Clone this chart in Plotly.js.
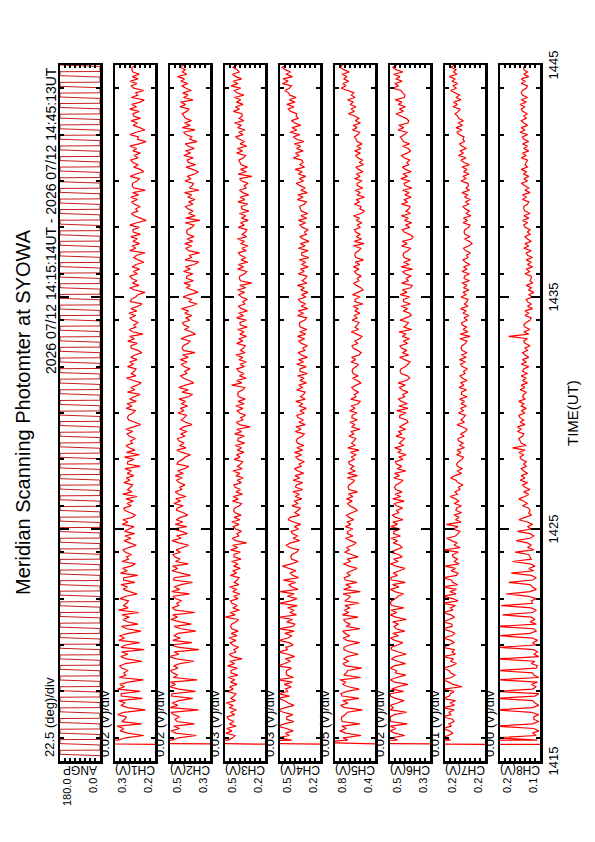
<!DOCTYPE html>
<html><head><meta charset="utf-8">
<script src="https://cdn.plot.ly/plotly-3.0.1.min.js"></script>
<style>
html,body{margin:0;padding:0;background:#fff;overflow:hidden;width:595px;height:842px;}
#rot{position:absolute;left:0;top:0;width:842px;height:595px;transform-origin:0 0;transform:translate(0,842px) rotate(-90deg);}
</style></head><body><div id="rot"></div>
<script>
// ---------------- DATA ----------------
const titleText = 'Meridian Scanning Photomter at SYOWA';
const subTitleText = '2026 07/12 14:15:14UT - 2026 07/12 14:45:13UT';
const xTitleText = 'TIME(UT)';
const xTickVals = [15, 25, 35, 45];
const xTickText = ['1415', '1425', '1435', '1445'];
const xMinorVals = [16,18,20,22,24,26,28,30,32,34,36,38,40,42,44];

const channelNames = ['ANGP','CH1(V)','CH2(V)','CH3(V)','CH4(V)','CH5(V)','CH6(V)','CH7(V)','CH8(V)'];
const scaleLabels = ['22.5 (deg)/div','0.02 (V)/div','0.02 (V)/div','0.03 (V)/div','0.03 (V)/div','0.05 (V)/div','0.02 (V)/div','0.01 (V)/div','0.00 (V)/div'];
const topLabels = ['180.0','0.3','0.5','0.5','0.5','0.8','0.5','0.2','0.2'];
const botLabels = ['0.0','0.2','0.3','0.2','0.2','0.4','0.3','0.2','0.1'];
const yMin = [0, 0.16, 0.34, 0.24, 0.25, 0.40, 0.34, 0.16, 0.125];
const yMax = [180, 0.32, 0.50, 0.48, 0.49, 0.80, 0.50, 0.24, 0.157];

// scan angle: start time of each scan (minutes after 14:00) and scan profile
const scanStart = [15.23,15.69,16.14,16.60,17.06,17.52,17.97,18.43,18.89,19.34,19.80,20.26,20.71,21.17,21.63,22.09,22.54,23.00,23.46,23.91,24.37,24.83,25.28,25.74,26.20,26.66,27.11,27.57,28.03,28.48,28.94,29.40,29.85,30.31,30.77,31.23,31.68,32.14,32.60,33.05,33.51,33.97,34.42,34.88,35.34,35.80,36.25,36.71,37.17,37.62,38.08,38.54,38.99,39.45,39.91,40.37,40.82,41.28,41.74,42.19,42.65,43.11,43.56,44.02,44.48,44.94];
const scanProfileDt = [0, 0.06, 0.23, 0.24];
const scanProfileDeg = [0, 180, 180, 0];

// photometer samples: first sample time and sampling step (minutes after 14:00)
const chT0 = 15.7;
const chDt = 0.1;

const ch1 = [0,1,
.308,.278,.205,.270,.299,.284,.312,.214,.293,.281, .275,.309,.285,.198,.270,.296,.279,.305,.210,.295,
.296,.219,.309,.282,.301,.267,.207,.303,.277,.285, .267,.291,.301,.278,.212,.274,.297,.269,.294,.203,
.296,.278,.222,.305,.282,.302,.265,.216,.273,.294, .228,.271,.288,.263,.292,.225,.305,.268,.286,.274,
.266,.300,.276,.231,.261,.287,.270,.296,.240,.286, .285,.229,.298,.271,.290,.256,.238,.292,.266,.274,
.254,.278,.288,.265,.235,.261,.284,.256,.281,.242, .282,.264,.244,.291,.268,.288,.251,.238,.259,.280,
.285,.255,.272,.247,.276,.232,.289,.252,.270,.258, .250,.284,.260,.275,.245,.271,.254,.280,.220,.270,
.269,.244,.282,.222,.274,.240,.263,.276,.250,.258, .238,.262,.272,.249,.277,.245,.218,.240,.265,.270,
.266,.248,.239,.275,.252,.272,.235,.261,.243,.220, .270,.240,.257,.232,.215,.246,.274,.237,.255,.243,
.236,.270,.246,.261,.231,.257,.240,.212,.228,.256, .256,.231,.269,.242,.261,.208,.250,.263,.237,.245,
.226,.250,.260,.237,.265,.233,.256,.228,.212,.258, .255,.237,.228,.200,.241,.261,.224,.250,.232,.253,
.260,.230,.247,.222,.251,.236,.205,.227,.245,.233, .200,.261,.237,.252,.222,.248,.231,.257,.219,.247,
.248,.223,.261,.234,.195,.219,.242,.255,.229,.237, .219,.243,.253,.230,.258,.226,.249,.198,.246,.251,
.250,.232,.223,.259,.236,.205,.219,.245,.227,.248, .257,.227,.244,.219,.248,.233,.261,.224,.196,.230,
.226,.260,.236,.200,.221,.247,.230,.256,.218,.246, .248,.223,.261,.234,.253,.219,.203,.255,.229,.237,
.205,.245,.255,.232,.260,.228,.251,.223,.248,.253, .251,.236,.246];

const ch2 = [0,1,
.491,.466,.395,.477,.496,.462,.485,.403,.472,.480, .462,.486,.496,.386,.501,.469,.492,.464,.409,.494,
.492,.398,.465,.501,.478,.498,.392,.487,.469,.490, .498,.468,.485,.460,.404,.474,.502,.465,.483,.384,
.464,.498,.412,.489,.459,.485,.468,.397,.456,.484, .415,.459,.497,.470,.489,.401,.478,.491,.465,.473,
.454,.478,.488,.422,.493,.461,.484,.456,.410,.486, .483,.418,.456,.492,.469,.489,.427,.478,.460,.481,
.488,.458,.475,.450,.425,.464,.492,.455,.473,.431, .454,.488,.433,.479,.449,.475,.458,.429,.446,.474,
.472,.447,.485,.458,.477,.436,.466,.479,.453,.461, .440,.464,.474,.451,.479,.447,.470,.442,.425,.472,
.467,.449,.440,.418,.453,.473,.436,.462,.444,.465, .470,.440,.457,.432,.461,.446,.412,.437,.455,.443,
.434,.468,.444,.459,.429,.455,.438,.464,.426,.410, .452,.427,.465,.438,.405,.423,.446,.459,.433,.441,
.420,.444,.454,.431,.459,.427,.450,.400,.447,.452, .447,.429,.420,.456,.433,.398,.416,.442,.424,.445,
.450,.420,.437,.412,.441,.426,.454,.417,.392,.423, .414,.448,.424,.388,.409,.435,.418,.444,.406,.434,
.433,.408,.446,.419,.438,.404,.385,.440,.414,.422, .382,.426,.436,.413,.441,.409,.432,.404,.429,.434,
.431,.413,.404,.440,.380,.437,.400,.426,.408,.429, .438,.408,.425,.400,.429,.414,.442,.384,.423,.411,
.406,.440,.416,.431,.401,.386,.410,.436,.398,.426, .432,.407,.445,.418,.437,.403,.426,.439,.392,.421,
.412,.436,.446,.400,.451,.419,.442,.414,.439,.444, .451,.433,.424,.460,.437,.457,.408,.446,.428,.449,
.415,.436,.453,.428,.457,.442,.470,.433,.451,.439, .461,.444,.455];

const ch3 = [0,1,
.461,.433,.420,.474,.439,.470,.414,.453,.426,.458, .467,.422,.448,.410,.454,.431,.473,.417,.445,.426,
.415,.466,.430,.453,.407,.447,.421,.460,.403,.445, .444,.406,.464,.423,.452,.378,.435,.455,.415,.427,
.398,.434,.449,.414,.457,.408,.443,.401,.439,.446, .441,.413,.400,.478,.419,.450,.394,.433,.406,.438,
.447,.402,.428,.390,.434,.411,.453,.397,.425,.406, .396,.447,.411,.434,.388,.428,.402,.441,.384,.426,
.426,.388,.446,.405,.434,.350,.417,.437,.397,.409, .380,.416,.431,.396,.439,.390,.425,.383,.421,.428,
.422,.394,.381,.435,.400,.431,.375,.414,.387,.419, .427,.382,.408,.370,.414,.391,.433,.377,.405,.386,
.374,.425,.389,.412,.366,.406,.380,.419,.362,.404, .402,.364,.422,.381,.410,.330,.393,.413,.373,.385,
.356,.392,.407,.372,.415,.366,.401,.359,.397,.404, .401,.373,.360,.440,.379,.410,.354,.393,.366,.398,
.409,.364,.390,.352,.396,.373,.415,.359,.387,.368, .359,.410,.374,.397,.351,.391,.365,.404,.347,.389,
.390,.352,.410,.369,.398,.346,.381,.401,.361,.373, .346,.382,.397,.362,.405,.356,.391,.320,.387,.394,
.391,.363,.350,.404,.369,.400,.344,.383,.356,.388, .399,.354,.380,.342,.386,.363,.405,.349,.377,.358,
.349,.400,.364,.387,.341,.381,.355,.394,.337,.379, .382,.344,.402,.361,.390,.338,.373,.393,.353,.365,
.342,.378,.393,.318,.401,.352,.387,.345,.383,.390, .397,.369,.356,.410,.375,.406,.350,.389,.362,.394,
.417,.372,.398,.360,.404,.381,.423,.367,.395,.376, .379,.430,.394,.417,.371,.411,.385,.424,.367,.409,
.424,.386,.444,.403,.432,.380,.415,.435,.395,.407, .432,.409,.425];

const ch4 = [0,1,
.419,.503,.434,.457,.411,.451,.505,.464,.407,.449, .450,.412,.470,.504,.458,.406,.441,.461,.502,.433,
.502,.442,.457,.422,.465,.416,.503,.409,.447,.454, .449,.421,.501,.462,.427,.458,.402,.441,.500,.446,
.455,.410,.436,.499,.442,.419,.461,.405,.498,.414, .399,.450,.414,.497,.391,.431,.405,.444,.387,.492,
.426,.388,.446,.405,.489,.382,.417,.437,.397,.470, .378,.414,.429,.394,.437,.475,.423,.381,.419,.426,
.419,.391,.378,.432,.452,.428,.372,.411,.384,.416, .423,.378,.404,.366,.410,.440,.429,.373,.401,.382,
.367,.418,.382,.405,.359,.399,.373,.412,.355,.397, .392,.354,.412,.371,.400,.348,.383,.403,.363,.375,
.344,.380,.395,.360,.403,.354,.389,.347,.385,.392, .385,.357,.344,.398,.363,.394,.338,.377,.350,.382,
.389,.344,.370,.332,.376,.353,.395,.339,.367,.348, .339,.390,.354,.377,.331,.371,.345,.384,.327,.369,
.370,.332,.390,.349,.378,.326,.361,.381,.341,.353, .326,.362,.377,.342,.385,.336,.371,.329,.367,.374,
.371,.343,.330,.384,.349,.380,.324,.363,.336,.368, .379,.334,.360,.322,.366,.343,.385,.329,.357,.338,
.329,.380,.344,.367,.321,.361,.335,.374,.317,.359, .360,.322,.380,.339,.368,.316,.351,.371,.331,.343,
.320,.356,.371,.336,.379,.330,.365,.323,.361,.368, .373,.345,.332,.386,.351,.382,.326,.365,.338,.370,
.393,.348,.374,.336,.380,.357,.399,.343,.371,.352, .359,.410,.374,.397,.351,.391,.365,.404,.347,.389,
.410,.372,.430,.389,.418,.366,.401,.421,.381,.393, .390,.426,.441,.406,.449,.400,.435,.393,.431,.438,
.462,.434,.421,.475,.440,.471,.415,.454,.427,.459, .476,.455,.470];

const ch5 = [0,1,
.672,.720,.541,.694,.750,.686,.732,.552,.726,.736, .732,.696,.678,.527,.704,.744,.670,.722,.560,.728,
.742,.682,.558,.666,.724,.694,.750,.545,.712,.688, .672,.534,.692,.722,.662,.714,.680,.568,.656,.712,
.710,.660,.553,.682,.720,.652,.698,.724,.549,.688, .648,.696,.716,.569,.726,.662,.708,.652,.702,.559,
.702,.666,.648,.720,.547,.714,.640,.692,.582,.698, .708,.648,.682,.632,.579,.660,.716,.642,.678,.569,
.636,.704,.656,.686,.626,.588,.644,.696,.620,.676, .671,.621,.697,.643,.681,.613,.659,.685,.633,.575,
.606,.654,.674,.628,.684,.620,.666,.575,.660,.670, .659,.623,.605,.677,.575,.671,.597,.649,.613,.655,
.664,.604,.638,.588,.646,.560,.672,.598,.634,.610, .592,.660,.612,.642,.550,.634,.600,.652,.576,.632,
.628,.578,.654,.600,.638,.570,.548,.642,.590,.606, .565,.613,.633,.587,.540,.579,.625,.569,.619,.629,
.622,.586,.568,.640,.594,.634,.560,.538,.576,.618, .630,.570,.604,.554,.530,.582,.638,.564,.600,.576,
.560,.628,.580,.610,.550,.602,.568,.620,.520,.600, .599,.549,.625,.571,.520,.541,.587,.613,.561,.577,
.538,.586,.606,.560,.616,.552,.598,.515,.592,.602, .596,.560,.542,.614,.510,.608,.534,.586,.550,.592,
.606,.546,.580,.530,.588,.558,.614,.540,.505,.552, .538,.606,.558,.588,.505,.580,.546,.598,.522,.578,
.578,.528,.604,.550,.588,.520,.566,.592,.515,.556, .525,.573,.593,.547,.603,.539,.585,.529,.579,.589,
.607,.571,.553,.625,.579,.619,.545,.597,.561,.603, .666,.606,.640,.590,.648,.618,.674,.600,.636,.612,
.672,.740,.692,.722,.662,.714,.680,.732,.656,.712, .748,.722,.741];

const ch6 = [0,1,
.470,.494,.441,.481,.499,.477,.499,.431,.497,.499, .499,.483,.433,.499,.487,.499,.470,.444,.478,.499,
.499,.446,.493,.468,.428,.482,.499,.473,.437,.479, .474,.499,.484,.438,.469,.495,.478,.435,.466,.494,
.495,.470,.449,.481,.499,.466,.489,.441,.476,.484, .466,.490,.434,.477,.499,.473,.496,.445,.493,.498,
.495,.477,.468,.446,.481,.499,.464,.490,.439,.493, .499,.470,.487,.462,.440,.476,.499,.467,.485,.451,
.466,.499,.476,.452,.461,.487,.470,.496,.458,.486, .484,.459,.497,.470,.489,.448,.478,.491,.465,.473,
.450,.474,.484,.443,.489,.457,.480,.452,.477,.482, .476,.458,.449,.485,.462,.482,.437,.471,.453,.474,
.478,.448,.465,.435,.469,.454,.482,.445,.463,.451, .442,.476,.452,.467,.437,.463,.446,.428,.434,.462,
.460,.435,.473,.428,.465,.431,.454,.467,.441,.449, .428,.452,.462,.439,.467,.435,.421,.430,.455,.460,
.456,.438,.429,.420,.442,.462,.425,.451,.433,.454, .460,.430,.447,.422,.451,.436,.464,.413,.445,.433,
.426,.460,.436,.415,.421,.447,.430,.456,.418,.446, .446,.421,.459,.432,.451,.417,.411,.453,.427,.435,
.416,.440,.450,.410,.455,.423,.446,.418,.443,.448, .445,.427,.418,.454,.431,.451,.414,.408,.422,.443,
.451,.421,.438,.413,.442,.427,.455,.418,.436,.424, .420,.454,.430,.445,.415,.441,.424,.450,.412,.440,
.444,.419,.457,.430,.449,.415,.438,.451,.425,.433, .420,.444,.454,.431,.418,.427,.450,.422,.447,.452,
.459,.441,.432,.468,.445,.465,.428,.425,.436,.457, .476,.446,.463,.438,.467,.452,.480,.443,.440,.449,
.456,.490,.466,.481,.451,.477,.460,.486,.448,.476, .489,.474,.485];

const ch7 = [0,1,
.229,.245,.234,.224,.231,.245,.227,.232,.222,.225, .245,.228,.232,.222,.245,.221,.230,.219,.245,.231,
.229,.222,.245,.206,.224,.232,.245,.227,.220,.229, .232,.245,.227,.217,.229,.223,.245,.219,.226,.221,
.245,.232,.222,.228,.245,.227,.220,.230,.245,.226, .226,.245,.231,.221,.228,.245,.224,.229,.219,.245,
.214,.224,.245,.218,.230,.217,.245,.215,.225,.227, .245,.217,.214,.228,.219,.241,.212,.222,.215,.224,
.225,.213,.242,.210,.222,.216,.227,.237,.219,.214, .210,.224,.214,.237,.208,.219,.212,.222,.207,.218,
.217,.207,.222,.212,.219,.230,.215,.220,.210,.213, .204,.214,.218,.229,.220,.207,.216,.205,.215,.217,
.213,.206,.203,.217,.208,.216,.201,.211,.204,.213, .214,.202,.209,.199,.196,.205,.216,.201,.208,.203,
.199,.213,.203,.209,.197,.208,.201,.211,.196,.207, .207,.197,.212,.202,.209,.196,.205,.210,.200,.203,
.195,.205,.209,.199,.211,.198,.207,.196,.206,.208, .206,.199,.196,.210,.190,.209,.194,.204,.197,.206,
.207,.195,.202,.192,.204,.198,.209,.194,.201,.196, .194,.208,.198,.204,.192,.203,.196,.206,.191,.202,
.201,.191,.206,.196,.203,.190,.199,.204,.194,.197, .189,.199,.203,.193,.186,.192,.201,.190,.200,.202,
.200,.193,.190,.204,.195,.203,.188,.198,.191,.200, .204,.192,.199,.189,.201,.195,.206,.191,.198,.193,
.194,.208,.198,.204,.192,.203,.196,.206,.191,.202, .208,.198,.213,.203,.210,.197,.206,.211,.201,.204,
.202,.212,.216,.206,.218,.205,.214,.203,.213,.215, .220,.213,.210,.224,.215,.223,.208,.218,.211,.220,
.229,.217,.224,.214,.226,.220,.231,.216,.223,.218, .228,.221,.226];

const ch8 = [0,1,
.127,.160,.128,.131,.126,.130,.160,.131,.126,.130, .130,.126,.132,.160,.131,.126,.129,.131,.160,.129,
.126,.160,.131,.128,.132,.127,.160,.126,.130,.131, .160,.128,.127,.132,.129,.160,.126,.130,.127,.130,
.158,.128,.131,.127,.131,.157,.133,.128,.130,.160, .128,.133,.129,.132,.155,.131,.128,.132,.156,.131,
.132,.128,.134,.152,.133,.128,.131,.133,.150,.131, .128,.132,.148,.130,.134,.129,.133,.147,.132,.133,
.134,.145,.130,.135,.132,.135,.144,.133,.130,.133, .143,.132,.135,.131,.135,.142,.137,.132,.134,.133,
.134,.139,.135,.138,.142,.137,.134,.138,.133,.137, .139,.135,.141,.137,.140,.135,.138,.140,.136,.138,
.136,.140,.141,.138,.142,.137,.147,.136,.140,.141, .142,.139,.138,.143,.140,.143,.137,.141,.138,.141,
.142,.137,.140,.136,.140,.138,.142,.137,.139,.138, .136,.141,.137,.140,.135,.139,.136,.140,.135,.139,
.138,.134,.140,.136,.139,.134,.137,.139,.135,.137, .133,.137,.138,.135,.150,.134,.138,.133,.137,.138,
.136,.133,.132,.137,.134,.137,.131,.135,.132,.135, .136,.131,.134,.130,.134,.132,.136,.131,.133,.132,
.132,.137,.133,.136,.131,.135,.132,.136,.131,.135, .136,.132,.138,.134,.137,.132,.135,.137,.133,.135,
.133,.137,.138,.135,.139,.134,.138,.133,.137,.138, .138,.135,.134,.139,.136,.139,.133,.137,.134,.137,
.140,.135,.138,.134,.138,.136,.140,.135,.137,.136, .135,.140,.136,.139,.134,.138,.135,.139,.134,.138,
.139,.135,.141,.137,.140,.135,.138,.140,.136,.138, .135,.139,.140,.137,.141,.136,.140,.135,.139,.140,
.139,.136,.135,.140,.137,.140,.134,.138,.135,.138, .138,.136,.139];

const channels = [ch1, ch2, ch3, ch4, ch5, ch6, ch7, ch8];

// ---------------- LAYOUT CONSTANTS ----------------
const W = 842, H = 595;
const X0 = 81, X1 = 777;
const TOPS = [60, 115, 170, 225, 280, 335, 390, 445, 500];
const PH = 40;
const FONT = 'Liberation Sans, Arial, Helvetica, sans-serif';
const px = v => v / W;
const py = v => 1 - v / H;

// ---------------- TRACES ----------------
const angX = [], angY = [];
scanStart.forEach(s => {
  for (let j = 0; j < scanProfileDt.length; j++) {
    angX.push(+(s + scanProfileDt[j]).toFixed(3));
    angY.push(scanProfileDeg[j]);
  }
});

const traces = [{
  x: angX, y: angY, xaxis: 'x', yaxis: 'y', type: 'scatter', mode: 'lines',
  line: {color: '#c81e1e', width: 1}, hoverinfo: 'skip'
}];
channels.forEach((vals, i) => {
  traces.push({
    x0: chT0, dx: chDt, y: vals, xaxis: 'x' + (i + 2), yaxis: 'y' + (i + 2), type: 'scatter', mode: 'lines',
    line: {color: '#ff0000', width: 1.2, simplify: false}, hoverinfo: 'skip'
  });
});

const layout = {
  width: W, height: H, margin: {l: 0, r: 0, t: 0, b: 0},
  paper_bgcolor: '#fff', plot_bgcolor: '#fff', showlegend: false,
  font: {family: FONT, color: '#000'},
  annotations: []
};

for (let i = 0; i < 9; i++) {
  const xk = i === 0 ? 'xaxis' : 'xaxis' + (i + 1);
  const yk = i === 0 ? 'yaxis' : 'yaxis' + (i + 1);
  const xa = i === 0 ? 'x' : 'x' + (i + 1);
  const ya = i === 0 ? 'y' : 'y' + (i + 1);
  layout[xk] = {
    domain: [px(X0), px(X1)], range: [15, 45], anchor: ya,
    showline: true, linecolor: '#000', linewidth: 2.5, mirror: 'allticks',
    ticks: 'inside', ticklen: 9, tickwidth: 2.5, tickcolor: '#000',
    tickmode: 'array', tickvals: xTickVals, ticktext: xTickText,
    showticklabels: i === 8, tickfont: {size: 13, family: FONT},
    minor: {tickmode: 'array', tickvals: xMinorVals, ticks: 'inside', ticklen: 4, tickwidth: 2, tickcolor: '#000', showgrid: false},
    showgrid: false, zeroline: false, fixedrange: true
  };
  layout[yk] = {
    domain: [py(TOPS[i] + PH), py(TOPS[i])], range: [yMin[i], yMax[i]], anchor: xa,
    showline: true, linecolor: '#000', linewidth: 2.5, mirror: 'allticks',
    ticks: 'inside', ticklen: 3, tickwidth: 1.5, tickcolor: '#000',
    tickmode: 'linear', tick0: yMin[i], dtick: (yMax[i] - yMin[i]) / 8,
    showticklabels: false, showgrid: false, zeroline: false, fixedrange: true
  };
  const A = layout.annotations;
  A.push({text: scaleLabels[i], xref: 'paper', yref: 'paper', x: px(X0 + 2), y: py(TOPS[i] - 1),
    xanchor: 'left', yanchor: 'bottom', showarrow: false, font: {size: 13}});
  A.push({text: topLabels[i], xref: 'paper', yref: 'paper', x: px(66), y: py(TOPS[i] - 1),
    xanchor: 'right', yanchor: 'top', showarrow: false, font: {size: 11}});
  A.push({text: botLabels[i], xref: 'paper', yref: 'paper', x: px(66), y: py(TOPS[i] + PH + 1),
    xanchor: 'right', yanchor: 'bottom', showarrow: false, font: {size: 11}});
  A.push({text: channelNames[i], xref: 'paper', yref: 'paper', x: px(72), y: py(TOPS[i] + PH / 2),
    xanchor: 'center', yanchor: 'middle', textangle: -90, showarrow: false, font: {size: 12}});
}
layout.annotations.push({text: titleText, xref: 'paper', yref: 'paper', x: px(430), y: py(23),
  xanchor: 'center', yanchor: 'middle', showarrow: false, font: {size: 20}});
layout.annotations.push({text: subTitleText, xref: 'paper', yref: 'paper', x: px(X1), y: py(51),
  xanchor: 'right', yanchor: 'middle', showarrow: false, font: {size: 14}});
layout.annotations.push({text: xTitleText, xref: 'paper', yref: 'paper', x: px((X0 + X1) / 2), y: py(572),
  xanchor: 'center', yanchor: 'middle', showarrow: false, font: {size: 15}});

Plotly.newPlot('rot', traces, layout, {displayModeBar: false, staticPlot: true});
</script></body></html>
